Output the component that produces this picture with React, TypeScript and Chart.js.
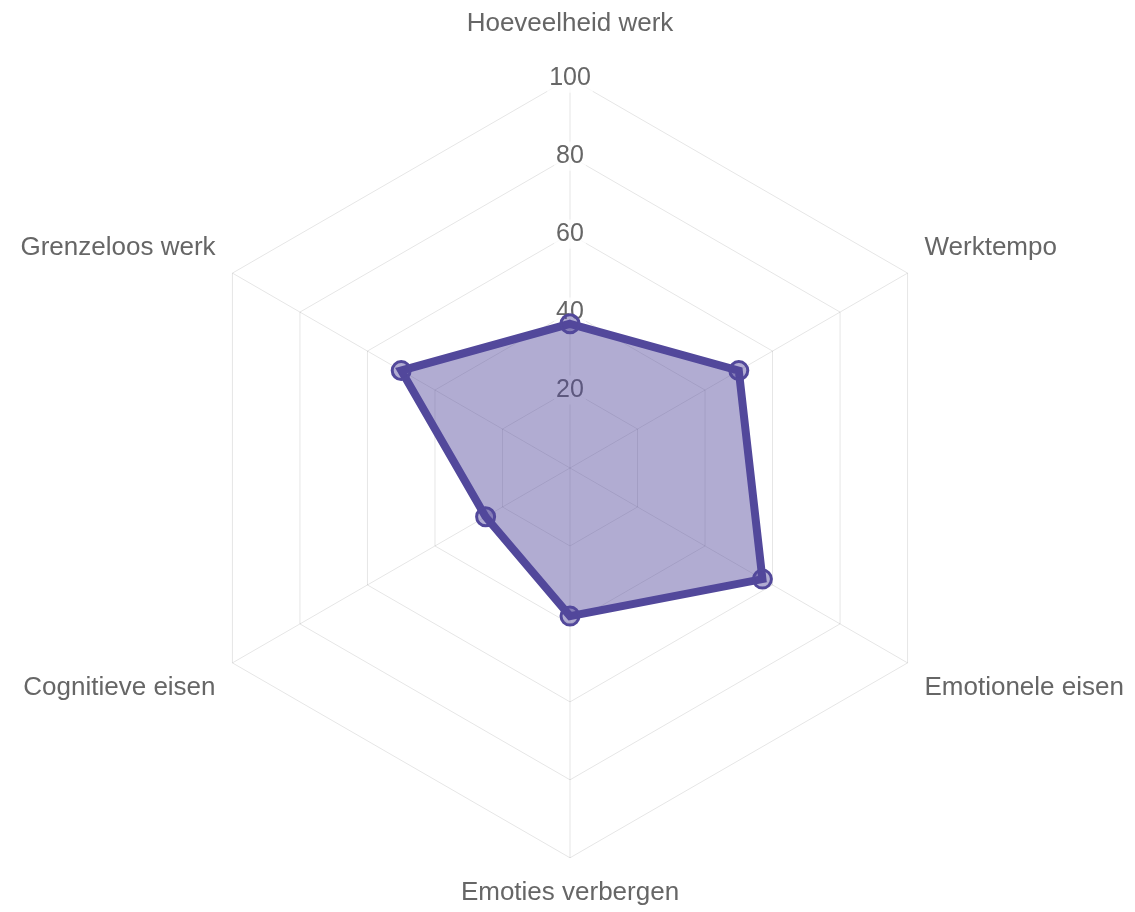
import React, { useEffect, useRef } from "react";
import { Chart, registerables } from "chart.js";

Chart.register(...registerables);

const categories: string[] = [
  "Hoeveelheid werk",
  "Werktempo",
  "Emotionele eisen",
  "Emoties verbergen",
  "Cognitieve eisen",
  "Grenzeloos werk",
];
const scores: number[] = [37, 50, 57, 38, 25, 50];
const tickMin = 0;
const tickMax = 100;
const tickStep = 20;

const lineColor = "rgb(82, 72, 155)";
const fillColor = "rgba(82, 72, 155, 0.45)";
const fontFamily = "'Liberation Sans', Arial, sans-serif";

export default function App() {
  const canvasRef = useRef<HTMLCanvasElement | null>(null);

  useEffect(() => {
    if (!canvasRef.current) return;
    const chart = new Chart(canvasRef.current, {
      type: "radar",
      data: {
        labels: categories,
        datasets: [
          {
            label: "Score",
            data: scores,
            borderColor: lineColor,
            backgroundColor: fillColor,
            borderWidth: 8,
            fill: true,
            pointRadius: 9,
            pointBorderWidth: 3,
            pointBorderColor: lineColor,
            pointBackgroundColor: fillColor,
          },
        ],
      },
      options: {
        animation: false,
        responsive: true,
        maintainAspectRatio: false,
        plugins: {
          legend: { display: false },
          tooltip: { enabled: false },
        },
        scales: {
          r: {
            min: tickMin,
            max: tickMax,
            ticks: {
              stepSize: tickStep,
              color: "#666",
              font: { size: 25, family: fontFamily },
            },
            grid: { color: "rgba(0,0,0,0.1)" },
            angleLines: { color: "rgba(0,0,0,0.1)" },
            pointLabels: {
              color: "#666",
              font: { size: 26, family: fontFamily },
              padding: (ctx: any) => (ctx.index === 0 ? 24.5 : 5),
            },
          },
        },
      },
    });
    return () => chart.destroy();
  }, []);

  return (
    <div
      style={{
        position: "fixed",
        left: 0,
        top: 0,
        width: 1135,
        height: 912,
        overflow: "hidden",
        background: "#fff",
      }}
    >
      <div style={{ position: "absolute", left: 5, top: -2, width: 1135, height: 921 }}>
        <canvas ref={canvasRef} />
      </div>
    </div>
  );
}
